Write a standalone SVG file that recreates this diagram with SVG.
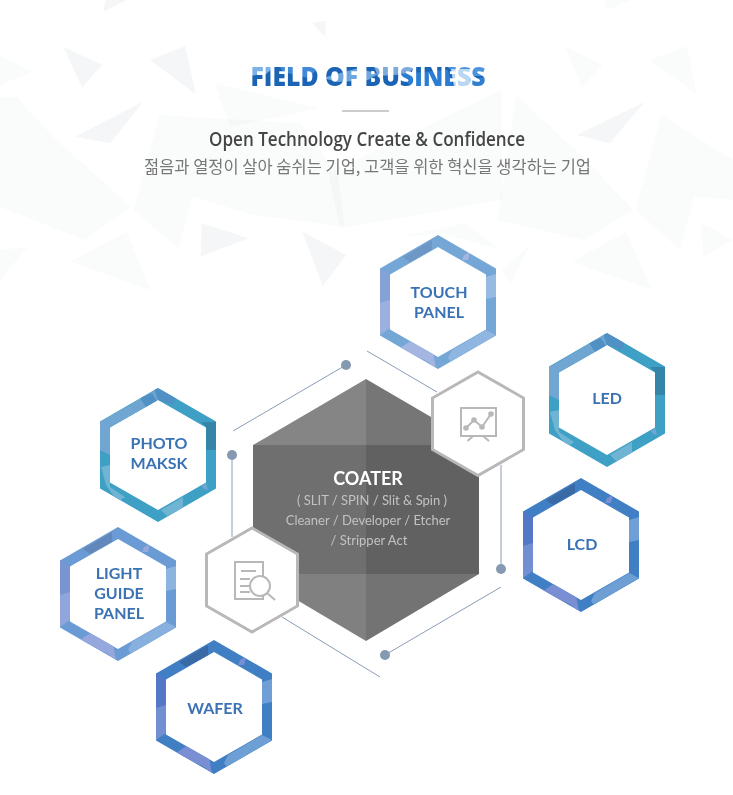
<svg xmlns="http://www.w3.org/2000/svg" width="733" height="795" viewBox="0 0 733 795">
<style>
.tri{fill:#f4f6f7}
.pale{fill:#fafbfb;mix-blend-mode:multiply}
.lbl{font-family:"Lato","Liberation Sans",sans-serif;font-weight:700;font-size:16px;fill:#3a72b4;text-anchor:middle}
.sm{font-family:"Lato","Liberation Sans",sans-serif;font-size:13px;fill:#c2c2c2;text-anchor:middle}
.wh{fill:#fff;stroke:#b8b8b8;stroke-width:3}
.ic{fill:none;stroke:#b8b8b8;stroke-width:2}
.cn{stroke:#8a9db5;stroke-width:1;fill:none}
.dot{fill:#8599b2}
</style>
<defs>
<clipPath id="ring"><path clip-rule="evenodd" d="M0-67L58-33.500V33.500L0 67L-58 33.500V-33.500ZM0-55L-48-27.500V27.500L0 55L48 27.500V-27.500Z"/></clipPath>
<pattern id="titleFill" patternUnits="userSpaceOnUse" x="248" y="64" width="240" height="24">
<rect width="240" height="24" fill="#1b64b5"/>
<polygon points="0,0 30,0 18,10 0,12" fill="#7db2e6"/>
<polygon points="30,0 75,0 60,14 35,8" fill="#3f8ad8"/>
<polygon points="75,14 110,4 130,10 120,16 90,18" fill="#6ea6de"/>
<polygon points="125,0 170,0 160,10 130,12" fill="#7eaadb"/>
<polygon points="150,10 200,6 205,24 165,24" fill="#2a7dd2"/>
<polygon points="195,0 240,0 240,12 212,12" fill="#4c93db"/>
<polygon points="203,5 222,5 222,23 206,23" fill="#b9d6f2"/>
<polygon points="222,16 240,12 240,24 222,24" fill="#2f7fcf"/>
</pattern>
</defs>
<rect width="733" height="795" fill="#fff"/>
<g transform="scale(.469,.3333)">
<polygon class="pale" points="0,290 35,290 120,420 280,620 180,720 0,620"/>
<polygon class="pale" points="340,345 640,370 720,520 735,680 540,645 410,590 380,745 285,630"/>
<polygon class="pale" points="725,685 700,520 1070,270 1070,600"/>
<polygon class="pale" points="1100,285 1250,480 1350,630 1245,720 1060,660"/>
<polygon class="pale" points="1410,345 1563,480 1563,600 1480,590 1450,750 1355,630"/>
<polygon class="pale" points="850,710 990,670 1070,750 940,700"/>
<polygon class="tri" points="225,0 270,0 220,35"/>
<polygon class="tri" points="665,70 695,62 693,110"/>
<polygon class="tri" points="135,140 218,195 175,262"/>
<polygon class="tri" points="320,180 395,138 417,282"/>
<polygon class="pale" points="0,165 70,215 0,255"/>
<polygon class="pale" points="1205,140 1285,195 1240,262"/>
<polygon class="pale" points="1385,180 1465,138 1485,282"/>
<polygon class="pale" points="458,250 680,325 490,380"/>
<polygon class="tri" points="160,410 305,305 235,430"/>
<polygon class="tri" points="430,670 530,715 428,770"/>
<polygon class="tri" points="645,695 738,765 688,858"/>
<polygon class="pale" points="150,785 270,695 320,870"/>
<polygon class="tri" points="1230,405 1375,305 1300,430"/>
<polygon class="pale" points="1220,785 1335,695 1390,870"/>
<polygon class="pale" points="1495,670 1563,720 1500,770"/>
<polygon class="pale" points="0,750 60,740 0,840"/>
<polygon class="pale" points="1290,0 1345,0 1295,30"/>
<polygon class="pale" points="1070,810 1130,735 1090,850"/>
</g>
<g id="heading">
<text x="368" y="86" text-anchor="middle" font-family="'Open Sans','Liberation Sans',sans-serif" font-weight="800" font-size="27" textLength="235" lengthAdjust="spacingAndGlyphs" fill="url(#titleFill)">FIELD OF BUSINESS</text>
<line x1="342" y1="111" x2="389" y2="111" stroke="#9a9a9a"/>
<text x="367" y="146" text-anchor="middle" font-family="'Open Sans','Liberation Sans',sans-serif" font-weight="600" font-size="19" textLength="316" lengthAdjust="spacingAndGlyphs" fill="#454545">Open Technology Create &amp; Confidence</text>
<text x="367.500" y="173" text-anchor="middle" font-family="'Noto Sans CJK KR',sans-serif" font-size="17" textLength="447" lengthAdjust="spacingAndGlyphs" fill="#777">젊음과 열정이 살아 숨쉬는 기업, 고객을 위한 혁신을 생각하는 기업</text>
</g>
<g id="connectors">
<line class="cn" x1="233" y1="431" x2="346" y2="365"/><circle class="dot" cx="346" cy="365" r="5"/>
<line class="cn" x1="367" y1="351" x2="437" y2="392"/>
<line class="cn" x1="232" y1="455" x2="232" y2="537"/><circle class="dot" cx="232" cy="455" r="5"/>
<line class="cn" x1="501" y1="465" x2="501" y2="569"/><circle class="dot" cx="501" cy="569" r="5"/>
<line class="cn" x1="385" y1="655" x2="501" y2="587"/><circle class="dot" cx="385" cy="655" r="5"/>
<line class="cn" x1="282" y1="617" x2="380" y2="677"/>
</g>
<g id="coater">
<polygon points="366,379 253,445 366,445" fill="#858585"/>
<polygon points="366,379 479,445 366,445" fill="#767676"/>
<rect x="253" y="445" width="113" height="129" fill="#6f6f6f"/>
<rect x="366" y="445" width="113" height="129" fill="#616161"/>
<polygon points="253,574 366,574 366,641" fill="#808080"/>
<polygon points="366,574 479,574 366,641" fill="#737373"/>
<text x="368" y="485" text-anchor="middle" font-family="Lato,'Liberation Sans',sans-serif" font-weight="700" font-size="18" fill="#fff">COATER</text>
<text class="sm" x="372" y="505">( SLIT / SPIN / Slit &amp; Spin )</text>
<text class="sm" x="368" y="525">Cleaner / Developer / Etcher</text>
<text class="sm" x="369" y="545">/ Stripper Act</text>
</g>
<g id="icon-chart">
<polygon class="wh" points="478,372 523.500,398 523.500,449.500 478,475.500 432.500,449.500 432.500,398"/>
<rect class="ic" x="461" y="408" width="35" height="28"/>
<polyline class="ic" points="466,428 474,420 482,427 491,414"/>
<g fill="#b8b8b8"><circle cx="466" cy="428" r="2.800"/><circle cx="474" cy="420" r="2.800"/><circle cx="482" cy="427" r="2.800"/><circle cx="491" cy="414" r="2.800"/></g>
<path class="ic" d="M473 436L467.500 441M483 436L489 441"/>
</g>
<g id="icon-doc">
<polygon class="wh" points="252,528 297.500,554 297.500,606 252,632 206.500,606 206.500,554"/>
<rect class="ic" x="235" y="562" width="28" height="37"/>
<path class="ic" d="M241 571H256M240 579H250M240 586H249M240 592H250"/>
<circle class="ic" style="fill:#fff" cx="260" cy="586" r="10"/>
<line class="ic" x1="267" y1="593" x2="275" y2="600"/>
</g>
<g id="touch-panel" transform="translate(438,302)">
<g clip-path="url(#ring)"><rect x="-60" y="-70" width="120" height="140" fill="#74a6d6"/>
<polygon points="-35,-45 -6,-62 -6,-52 -28,-40" fill="#6d98c6"/><polygon points="-58,-34 -48,-27 -48,0 -58,1" fill="#85a2d6"/><polygon points="-58,1 -48,-2 -48,26 -58,33" fill="#9bb0de"/><polygon points="-38,46 -26,38 -5,50 -2,67 -10,60" fill="#a5b5e2"/><polygon points="10,56 14,48 48,28 58,33 20,56 13,60" fill="#8fb6e0"/><polygon points="48,-25 58,-28 58,-5 48,-3" fill="#95bbe3"/><polygon points="26,-47 32,-50 30,-42 24,-42" fill="#a5b5e2"/></g>
<text class="lbl" x="1" y="-4">TOUCH</text><text class="lbl" x="1" y="16">PANEL</text>
</g>
<g id="light-guide-panel" transform="translate(118,594)">
<g clip-path="url(#ring)"><rect x="-60" y="-70" width="120" height="140" fill="#6b9bd4"/>
<polygon points="-35,-45 -6,-62 -6,-52 -28,-40" fill="#6288bb"/><polygon points="-58,-34 -48,-27 -48,0 -58,1" fill="#7a94d2"/><polygon points="-58,1 -48,-2 -48,26 -58,33" fill="#8fa5db"/><polygon points="-38,46 -26,38 -5,50 -2,67 -10,60" fill="#96a7dd"/><polygon points="10,56 14,48 48,28 58,33 20,56 13,60" fill="#88b0de"/><polygon points="48,-25 58,-28 58,-5 48,-3" fill="#8db4df"/><polygon points="26,-47 32,-50 30,-42 24,-42" fill="#96a7dd"/></g>
<text class="lbl" x="1" y="-15">LIGHT</text><text class="lbl" x="1" y="5">GUIDE</text><text class="lbl" x="1" y="25">PANEL</text>
</g>
<g id="wafer" transform="translate(214,707)">
<g clip-path="url(#ring)"><rect x="-60" y="-70" width="120" height="140" fill="#417fc5"/>
<polygon points="-35,-45 -6,-62 -6,-52 -28,-40" fill="#3a6aa6"/><polygon points="-58,-34 -48,-27 -48,0 -58,1" fill="#5577c8"/><polygon points="-58,1 -48,-2 -48,26 -58,33" fill="#728fd2"/><polygon points="-38,46 -26,38 -5,50 -2,67 -10,60" fill="#7a8fd3"/><polygon points="10,56 14,48 48,28 58,33 20,56 13,60" fill="#6d9ed4"/><polygon points="48,-25 58,-28 58,-5 48,-3" fill="#6f9fd6"/><polygon points="26,-47 32,-50 30,-42 24,-42" fill="#7a8fd3"/></g>
<text class="lbl" x="1" y="7">WAFER</text>
</g>
<g id="lcd" transform="translate(581,545)">
<g clip-path="url(#ring)"><rect x="-60" y="-70" width="120" height="140" fill="#417fc5"/>
<polygon points="-35,-45 -6,-62 -6,-52 -28,-40" fill="#3a6aa6"/><polygon points="-58,-34 -48,-27 -48,0 -58,1" fill="#5577c8"/><polygon points="-58,1 -48,-2 -48,26 -58,33" fill="#728fd2"/><polygon points="-38,46 -26,38 -5,50 -2,67 -10,60" fill="#7a8fd3"/><polygon points="10,56 14,48 48,28 58,33 20,56 13,60" fill="#6d9ed4"/><polygon points="48,-25 58,-28 58,-5 48,-3" fill="#6f9fd6"/><polygon points="26,-47 32,-50 30,-42 24,-42" fill="#7a8fd3"/></g>
<text class="lbl" x="1" y="5">LCD</text>
</g>
<g id="led" transform="translate(607,400)">
<g clip-path="url(#ring)"><rect x="-60" y="-70" width="120" height="140" fill="#3fa0c6"/>
<polygon points="-58,-33 -28,-50 -18,-42 -47,-29 -48,0 -58,-5" fill="#72a6d2"/><polygon points="-28,-50 -2,-67 0,-55 -20,-42" fill="#6fa6d1"/><polygon points="-18,-57 -6,-62 -1,-54 -12,-48" fill="#5090c5"/><polygon points="-4,-66 0,-67 18,-58 15,-50 0,-55" fill="#5090c5"/><polygon points="43,-33 58,-33 58,-5 48,-5 48,-28" fill="#3485a8"/><polygon points="-57,12 -48,10 -48,32 -33,42 -40,47 -52,30" fill="#6fb5d3"/><polygon points="3,55 25,42 25,55 10,62" fill="#6fb5d3"/><polygon points="44,31 48,28 50,35 46,34" fill="#72a6d2"/></g>
<text class="lbl" x="0" y="4">LED</text>
</g>
<g id="photo-maksk" transform="translate(158,455)">
<g clip-path="url(#ring)"><rect x="-60" y="-70" width="120" height="140" fill="#3fa0c6"/>
<polygon points="-58,-33 -28,-50 -18,-42 -47,-29 -48,0 -58,-5" fill="#72a6d2"/><polygon points="-28,-50 -2,-67 0,-55 -20,-42" fill="#6fa6d1"/><polygon points="-18,-57 -6,-62 -1,-54 -12,-48" fill="#5090c5"/><polygon points="-4,-66 0,-67 18,-58 15,-50 0,-55" fill="#5090c5"/><polygon points="43,-33 58,-33 58,-5 48,-5 48,-28" fill="#3485a8"/><polygon points="-57,12 -48,10 -48,32 -33,42 -40,47 -52,30" fill="#6fb5d3"/><polygon points="3,55 25,42 25,55 10,62" fill="#6fb5d3"/><polygon points="44,31 48,28 50,35 46,34" fill="#72a6d2"/></g>
<text class="lbl" x="1" y="-6">PHOTO</text><text class="lbl" x="1" y="14">MAKSK</text>
</g>
</svg>
